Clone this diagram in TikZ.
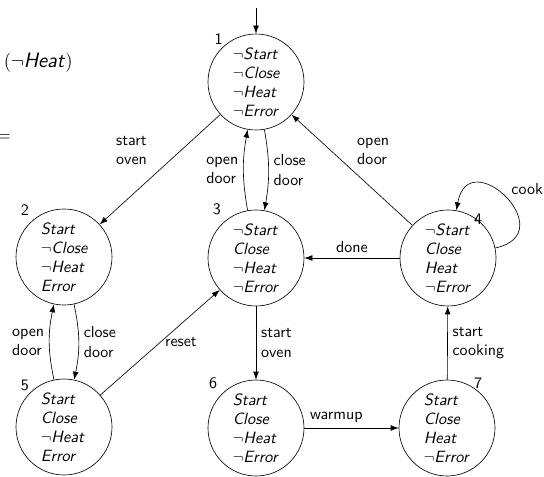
\documentclass[tikz,border=0pt]{standalone}
\usetikzlibrary{arrows.meta}
\newcommand{\myneg}{$\neg$}
\tikzset{
  state/.style={circle,draw,minimum size=60pt,inner sep=0pt,text width=29pt,align=left,font=\sffamily\itshape\fontsize{10.2}{11.8}\selectfont},
  lbl/.style={font=\sffamily,align=left,inner sep=3pt},
  num/.style={font=\sffamily,inner sep=0pt,anchor=center},
  arr/.style={-{Latex[length=5pt,width=3.6pt]}},
}
\begin{document}
\begin{tikzpicture}[x=0.625pt,y=-0.625pt]
\useasboundingbox (0,0) rectangle (544,477);
\node[state,label={[num,label distance=5.4pt]131:1}] (n1) at (256,82) {\myneg Start\\\myneg Close\\\myneg Heat\\\myneg Error};
\node[state,label={[num,label distance=7.9pt]130:2}] (n2) at (64,257) {Start\\\myneg Close\\\myneg Heat\\Error};
\node[state,label={[num,label distance=8.7pt]129:3}] (n3) at (256,258) {\myneg Start\\Close\\\myneg Heat\\\myneg Error};
\node[state,label={[num,label distance=0.5pt]52:4}] (n4) at (448,258) {\myneg Start\\Close\\Heat\\\myneg Error};
\node[state,label={[num,label distance=5.6pt]133:5}] (n5) at (64,427) {Start\\Close\\\myneg Heat\\Error};
\node[state,label={[num,label distance=8.4pt]134:6}] (n6) at (256,428) {Start\\Close\\\myneg Heat\\\myneg Error};
\node[state,label={[num,label distance=3.6pt]55:7}] (n7) at (447,428) {Start\\Close\\Heat\\\myneg Error};
\node[anchor=base east,inner sep=0pt,font=\sffamily\fontsize{13}{15}\selectfont] (frag1) at (73,68) {$(\neg$\textit{Heat}$)$};
\node[anchor=east,inner sep=0pt,font=\fontsize{13}{15}\selectfont] (frag2) at (11,138) {$=$};
\coordinate (init) at (256,8);
\draw[arr] (init) -- (n1);
\draw[arr] (n1) -- node[lbl,above left,xshift=-5pt] {start\\oven} (n2);
\draw[arr] (n3) to[bend left=10] node[lbl,left] {open\\door} (n1);
\draw[arr] (n1) to[bend left=10] node[lbl,right] {close\\door} (n3);
\draw[arr] (n4) -- node[lbl,above right] {open\\door} (n1);
\draw[arr] (n4) -- node[lbl,above] {done} (n3);
\draw[arr] (n2) to[bend left=12] node[lbl,right] {close\\door} (n5);
\draw[arr] (n5) to[bend left=12] node[lbl,left] {open\\door} (n2);
\draw[arr] (n5) -- node[lbl,right] {reset} (n3);
\draw[arr] (n3) -- node[lbl,right] {start\\oven} (n6);
\draw[arr] (n6) -- node[lbl,above,pos=.34] {warmup} (n7);
\draw[arr] (n7) -- node[lbl,right] {start\\cooking} (n4);
\draw[arr] (n4) to[out=12,in=80,looseness=3.3] node[lbl,pos=.35,above right,xshift=-7pt,yshift=9pt] {cook} (n4);
\end{tikzpicture}
\end{document}
